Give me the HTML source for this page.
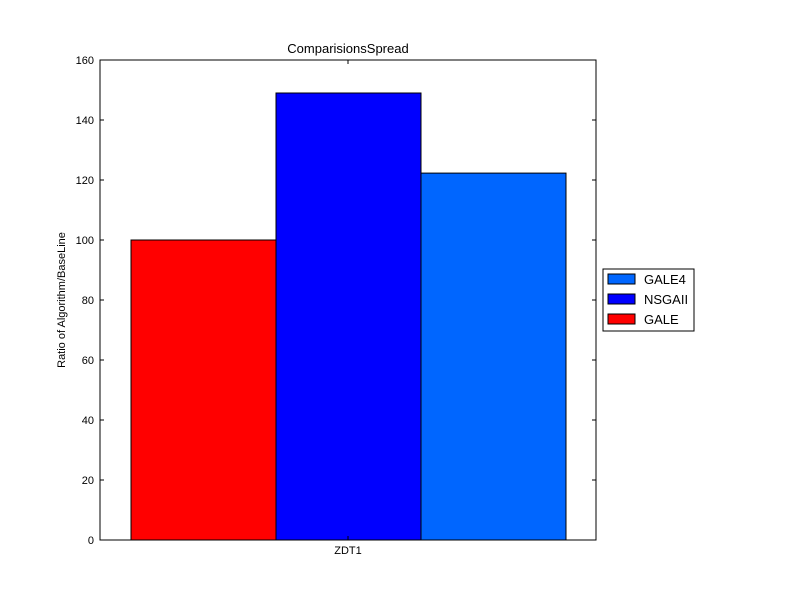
<!DOCTYPE html>
<html><head><meta charset="utf-8"><style>body{margin:0;background:#fff}svg{display:block;font-family:"Liberation Sans",sans-serif}</style></head>
<body>
<svg id="chart" width="800" height="600"></svg>
<script>
const categories = ["ZDT1"];
const seriesNames = ["GALE", "NSGAII", "GALE4"];
const seriesValues = [100, 149, 122.3];
const seriesColors = ["#ff0000", "#0000ff", "#0066ff"];
const yTicks = [0, 20, 40, 60, 80, 100, 120, 140, 160];

const NS = "http://www.w3.org/2000/svg";
const svg = document.getElementById("chart");
const L = 100, R = 596, T = 60, B = 540;
const yMax = 160;
const y = v => B - (v / yMax) * (B - T);
const barW = 145, start = 131;
const x = i => start + i * barW;
function mk(tag, attrs, parent) {
  const e = document.createElementNS(NS, tag);
  for (const k in attrs) e.setAttribute(k, attrs[k]);
  (parent || svg).appendChild(e);
  return e;
}
seriesValues.forEach((v, i) => {
  const r = mk("rect", {x: x(i), y: y(v), width: barW, height: B - y(v), fill: seriesColors[i], stroke: "#000", "stroke-width": 1});
  
  
});
const frame = mk("rect", {x: L, y: T, width: R - L, height: B - T, fill: "none", stroke: "#000", "stroke-width": 1});


yTicks.forEach(t => {
  const yy = y(t);
  mk("line", {x1: L, x2: L + 4, y1: yy, y2: yy, stroke: "#000"});
  mk("line", {x1: R, x2: R - 4, y1: yy, y2: yy, stroke: "#000"});
  const tx = mk("text", {x: L - 6, y: yy + 4, "text-anchor": "end", "font-size": 11});
  tx.textContent = t;
  
  
});
const cx = (L + R) / 2;
mk("line", {x1: cx, x2: cx, y1: B, y2: B - 4, stroke: "#000"});
mk("line", {x1: cx, x2: cx, y1: T, y2: T + 4, stroke: "#000"});
const xl = mk("text", {x: cx, y: 554, "text-anchor": "middle", "font-size": 11});
xl.textContent = categories[0];


const title = mk("text", {x: cx, y: 53, "text-anchor": "middle", "font-size": 13});
title.textContent = "ComparisionsSpread";


const yt = mk("text", {x: 0, y: 0, "text-anchor": "middle", "font-size": 11, transform: "translate(65,300) rotate(-90)"});
yt.textContent = "Ratio of Algorithm/BaseLine";


const lg = mk("g", {});


mk("rect", {x: 603, y: 269, width: 91, height: 62, fill: "#fff", stroke: "#000"}, lg);
[2, 1, 0].forEach((si, k) => {
  const yy = 279 + k * 20;
  const sw = mk("rect", {x: 608, y: yy - 5, width: 27, height: 10, fill: seriesColors[si], stroke: "#000"}, lg);
  
  
  const t = mk("text", {x: 644, y: yy + 5, "font-size": 13}, lg);
  t.textContent = seriesNames[si];
  
  
});
</script>
</body></html>
